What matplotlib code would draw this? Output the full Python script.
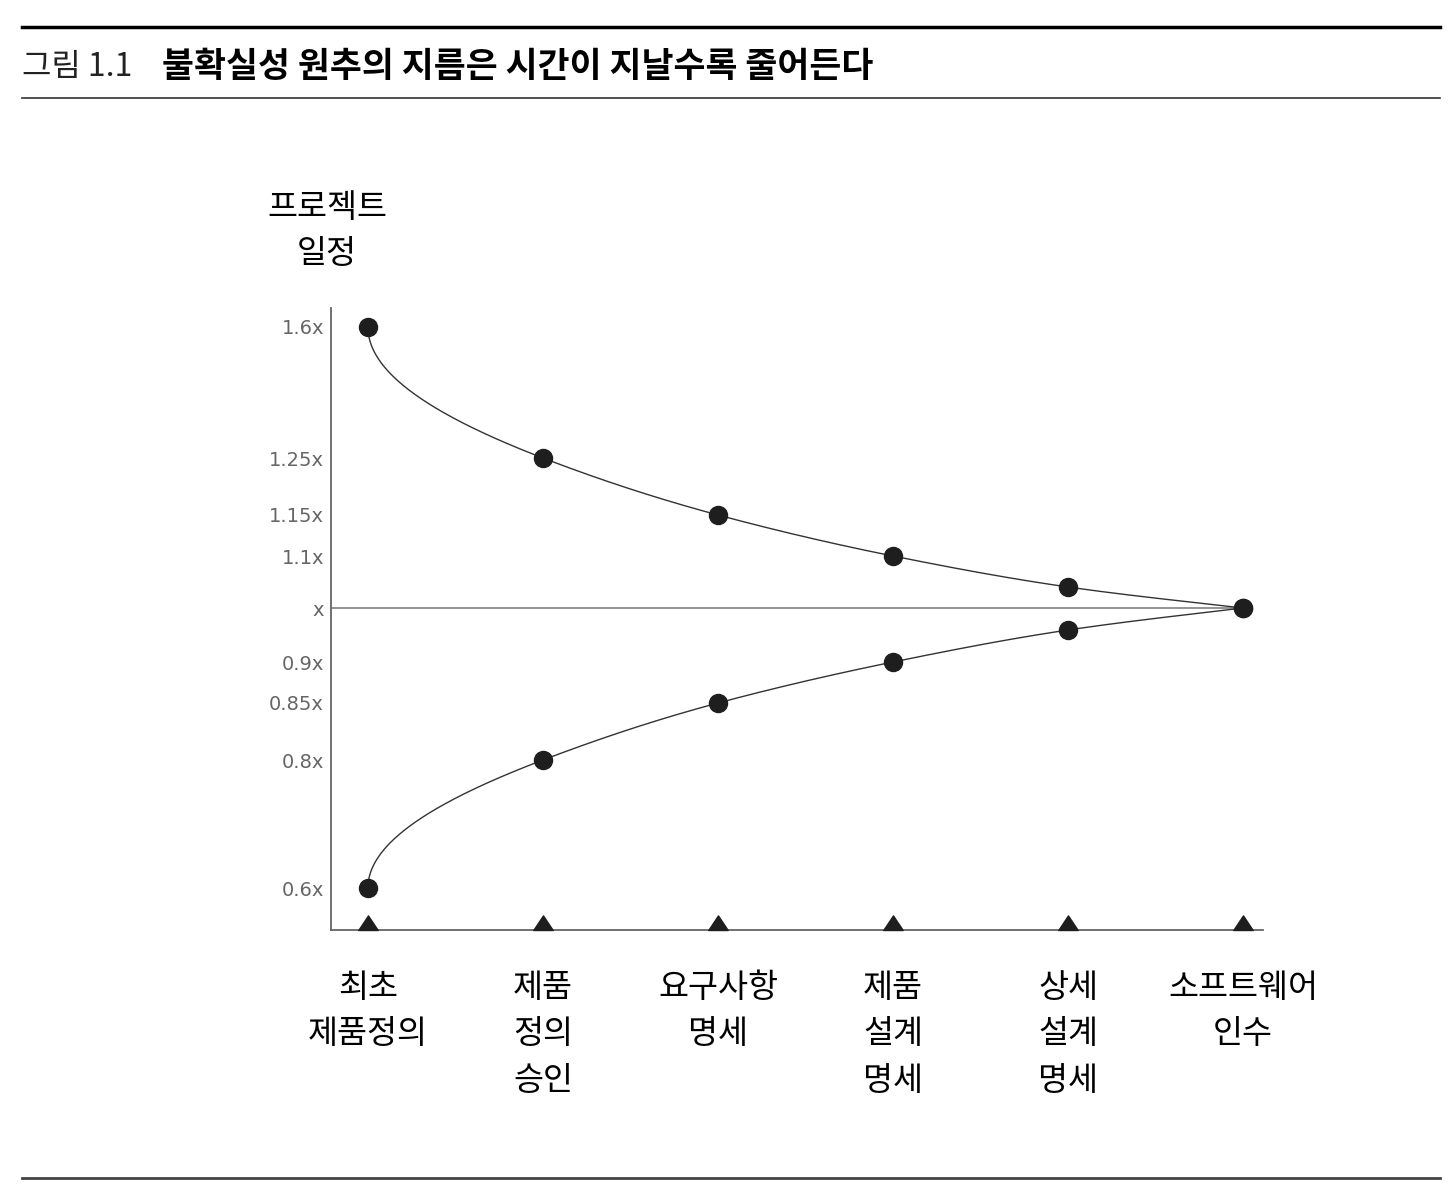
import numpy as np
import matplotlib
matplotlib.use('Agg')
import matplotlib.pyplot as plt
from matplotlib.lines import Line2D
from matplotlib.path import Path

plt.rcParams['font.family'] = ['Noto Sans CJK KR', 'DejaVu Sans']

# data
stages = ['최초\n제품정의', '제품\n정의\n승인', '요구사항\n명세', '제품\n설계\n명세', '상세\n설계\n명세', '소프트웨어\n인수']
upper = [1.6, 1.25, 1.15, 1.1, 1.05, 1.0]
lower = [0.6, 0.8, 0.85, 0.9, 0.95, 1.0]
tick_vals = [0.6, 0.8, 0.85, 0.9, 1.0, 1.1, 1.15, 1.25, 1.6]
tick_labels = ['0.6x', '0.8x', '0.85x', '0.9x', 'x', '1.1x', '1.15x', '1.25x', '1.6x']

# non-linear vertical scale of the original figure (value -> screen position)
knot_v = np.array([0.55, 0.6, 0.8, 0.85, 0.9, 0.95, 1.0, 1.05, 1.1, 1.15, 1.25, 1.6, 1.65])
knot_p = -np.array([930, 888, 760, 703, 662, 630, 608, 587, 556, 515, 458, 327, 308], dtype=float)

def forward(v):
    return np.interp(v, knot_v, knot_p)

def inverse(p):
    return np.interp(p, knot_p, knot_v)

def pchip(xk, yk, x):
    xk = np.asarray(xk, float); yk = np.asarray(yk, float)
    h = np.diff(xk); d = np.diff(yk) / h
    m = np.zeros_like(yk)
    m[0], m[-1] = d[0], d[-1]
    for k in range(1, len(xk) - 1):
        if d[k - 1] * d[k] > 0:
            w1 = 2 * h[k] + h[k - 1]; w2 = h[k] + 2 * h[k - 1]
            m[k] = (w1 + w2) / (w1 / d[k - 1] + w2 / d[k])
    idx = np.clip(np.searchsorted(xk, x) - 1, 0, len(xk) - 2)
    t = (x - xk[idx]) / h[idx]
    h00 = 2 * t**3 - 3 * t**2 + 1; h10 = t**3 - 2 * t**2 + t
    h01 = -2 * t**3 + 3 * t**2; h11 = t**3 - t**2
    return h00 * yk[idx] + h10 * h[idx] * m[idx] + h01 * yk[idx + 1] + h11 * h[idx] * m[idx + 1]

fig = plt.figure(figsize=(14.52, 12.02), dpi=100)
W, H = 1452, 1202
ax = fig.add_axes([331 / W, 1 - 930 / H, (1263 - 331) / W, (930 - 308) / H])
ax.set_yscale('function', functions=(forward, inverse))

x = np.arange(len(stages))
ax.set_xlim(-0.211, 5.114)
ax.set_ylim(0.55, 1.65)

# smooth connecting curves, drawn in screen space
s = np.sqrt(x)
sd = np.linspace(0, s[-1], 400)
for vals in (upper, lower):
    pd_ = pchip(s, forward(np.array(vals)), sd)
    ax.plot(sd**2, inverse(pd_), color='#333333', lw=1.0, zorder=2)

ax.hlines(1.0, -0.211, 5, color='#777777', lw=1.1, zorder=1)

ax.plot(x, upper, 'o', color='#1e1e1e', ms=13, zorder=3)
ax.plot(x, lower, 'o', color='#1e1e1e', ms=13, zorder=3)

tri = Path([(-1, 0), (1, 0), (0, 1.5), (-1, 0)], [Path.MOVETO, Path.LINETO, Path.LINETO, Path.CLOSEPOLY])
ax.plot(x, [0.55] * len(x), linestyle='none', marker=tri, ms=21, color='#1e1e1e', clip_on=False, zorder=4)

for sp in ['top', 'right']:
    ax.spines[sp].set_visible(False)
for sp in ['left', 'bottom']:
    ax.spines[sp].set_color('#666666')
    ax.spines[sp].set_linewidth(1.3)

ax.set_yticks(tick_vals)
ax.set_yticklabels(tick_labels, family='DejaVu Sans', fontsize=14, color='#666666')
ax.yaxis.set_minor_locator(matplotlib.ticker.NullLocator())
ax.tick_params(axis='y', length=0, pad=5)
ax.set_xticks([])

for xi, lab in zip(x, stages):
    ax.text(xi, -0.067, lab, transform=ax.get_xaxis_transform(), ha='center', va='top',
            fontsize=23.5, linespacing=1.58, color='black')

fig.text(327 / W, 1 - 192 / H, '프로젝트\n일정', ha='center', va='top', fontsize=23.5, linespacing=1.58)

# header and footer rules
fig.add_artist(Line2D([22 / W, 1440 / W], [1 - 27 / H] * 2, color='black', lw=2.5))
fig.add_artist(Line2D([22 / W, 1440 / W], [1 - 98 / H] * 2, color='#333333', lw=1.2))
fig.add_artist(Line2D([22 / W, 1440 / W], [1 - 1178 / H] * 2, color='#444444', lw=2.0))

fig.text(22 / W, 1 - 67 / H, '그림 1.1', ha='left', va='center', fontsize=23, color='#222222')
fig.text(162 / W, 1 - 67 / H, '불확실성 원추의 지름은 시간이 지날수록 줄어든다', ha='left', va='center',
         fontsize=25, fontweight='bold', color='black')

fig.savefig('out.png', dpi=100)
